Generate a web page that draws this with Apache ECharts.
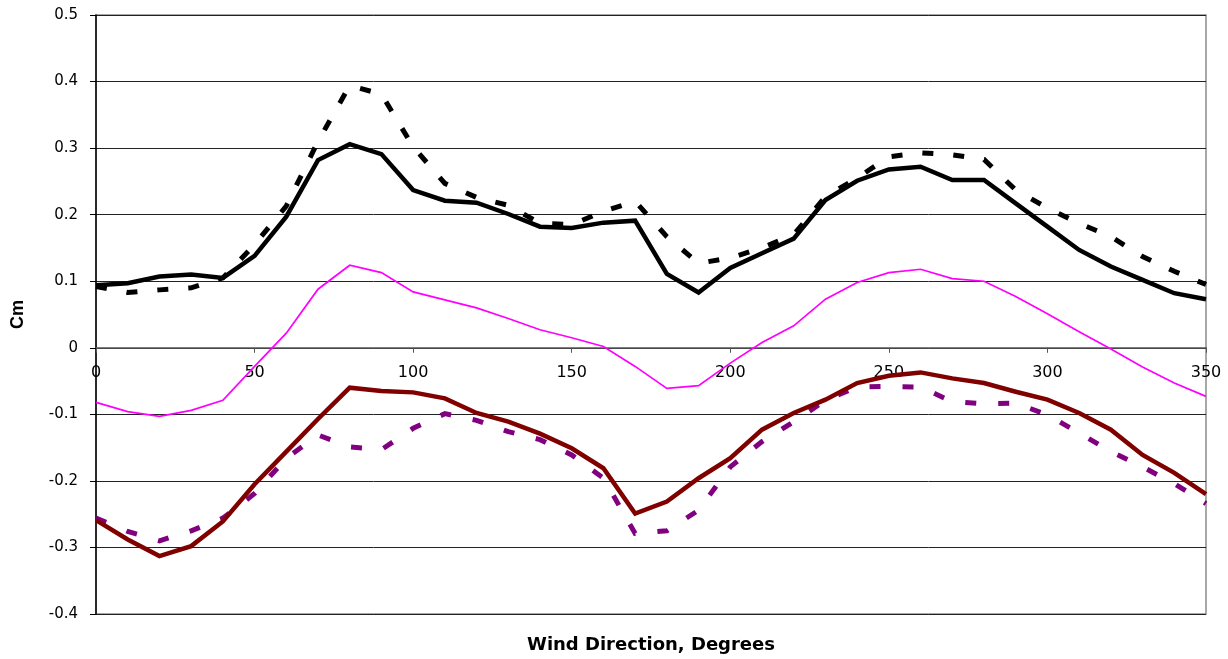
<!DOCTYPE html>
<html>
<head>
<meta charset="utf-8">
<script src="https://cdn.jsdelivr.net/npm/echarts@6/dist/echarts.min.js"></script>
<style>
  html, body { margin: 0; padding: 0; background: #fff; }
  #chart { width: 1228px; height: 659px; }
</style>
</head>
<body>
<div id="chart"></div>
<script>
// wind direction, degrees
const directions = [0, 10, 20, 30, 40, 50, 60, 70, 80, 90, 100, 110, 120, 130, 140, 150, 160, 170,
  180, 190, 200, 210, 220, 230, 240, 250, 260, 270, 280, 290, 300, 310, 320, 330, 340, 350]

// black solid
const blackSolid = [0.094, 0.097, 0.107, 0.110, 0.105, 0.138, 0.197, 0.282, 0.306, 0.291, 0.237, 0.221,
  0.218, 0.201, 0.182, 0.180, 0.188, 0.191, 0.111, 0.083, 0.120, 0.142, 0.164, 0.222, 0.251, 0.268,
  0.272, 0.252, 0.252, 0.217, 0.182, 0.147, 0.122, 0.102, 0.082, 0.073]

// black dashed
const blackDashed = [0.092, 0.083, 0.087, 0.090, 0.105, 0.155, 0.213, 0.310, 0.394, 0.381, 0.302, 0.247,
  0.226, 0.214, 0.187, 0.185, 0.205, 0.220, 0.167, 0.127, 0.135, 0.150, 0.170, 0.227, 0.255, 0.287,
  0.293, 0.290, 0.283, 0.237, 0.210, 0.187, 0.167, 0.137, 0.115, 0.095]

// thin magenta
const magenta = [-0.082, -0.096, -0.103, -0.094, -0.079, -0.028, 0.022, 0.088, 0.124, 0.113, 0.084, 0.072,
  0.060, 0.044, 0.027, 0.015, 0.002, -0.028, -0.061, -0.057, -0.023, 0.008, 0.033, 0.073, 0.098, 0.113,
  0.118, 0.104, 0.100, 0.077, 0.051, 0.024, -0.002, -0.029, -0.053, -0.073]

// dark red solid
const redSolid = [-0.259, -0.288, -0.313, -0.298, -0.261, -0.205, -0.156, -0.107, -0.060, -0.065, -0.067, -0.076,
  -0.098, -0.111, -0.129, -0.151, -0.181, -0.249, -0.231, -0.196, -0.166, -0.123, -0.098, -0.078, -0.053, -0.042,
  -0.037, -0.046, -0.053, -0.066, -0.078, -0.098, -0.123, -0.161, -0.188, -0.220]

// purple dashed
const purpleDashed = [-0.256, -0.276, -0.290, -0.275, -0.256, -0.219, -0.166, -0.131, -0.149, -0.153, -0.121, -0.099,
  -0.109, -0.126, -0.138, -0.161, -0.196, -0.279, -0.275, -0.244, -0.179, -0.141, -0.111, -0.079, -0.059, -0.058,
  -0.059, -0.081, -0.084, -0.083, -0.101, -0.128, -0.156, -0.179, -0.204, -0.234]

const font = '"DejaVu Sans", sans-serif'

// plot box (px) - x axis drawn at y = 0, so shift it up from the grid bottom
const gridTop = 15
const gridBottom = 45
const plotH = 659 - gridTop - gridBottom
const zeroShift = plotH * 0.4 / 0.9

function pairs(values) {
  return directions.map((d, i) => [d, values[i]])
}

function lineSeries(values, color, width, dash) {
  return {
    type: 'line',
    data: pairs(values),
    showSymbol: false,
    symbol: 'none',
    lineStyle: { color: color, width: width, type: dash || 'solid', cap: 'butt', join: 'miter' },
    z: 3
  }
}

const option = {
  animation: false,
  backgroundColor: '#fff',
  grid: {
    left: 96,
    top: gridTop,
    right: 22,
    bottom: gridBottom,
    outerBoundsMode: 'none',
    show: true,
    borderColor: '#8c8c8c',
    borderWidth: 1.5
  },
  xAxis: {
    type: 'value',
    min: 0,
    max: 350,
    interval: 50,
    offset: -zeroShift,
    name: 'Wind Direction, Degrees',
    nameLocation: 'middle',
    nameGap: 289,
    nameTextStyle: { fontFamily: font, fontWeight: 'bold', fontSize: 18, color: '#000' },
    axisLine: { onZero: false, lineStyle: { color: '#555', width: 1.5 } },
    axisTick: { show: true, length: 5, lineStyle: { color: '#555' } },
    axisLabel: { margin: 17, fontFamily: font, fontSize: 16, color: '#000' },
    splitLine: { show: false }
  },
  yAxis: {
    type: 'value',
    min: -0.4,
    max: 0.5,
    interval: 0.1,
    name: 'Cm',
    nameLocation: 'middle',
    nameGap: 69,
    nameRotate: 90,
    nameTextStyle: { fontFamily: '"Liberation Sans", Arial, sans-serif', fontWeight: 'bold', fontSize: 18, color: '#000' },
    axisLine: { show: true, lineStyle: { color: '#000', width: 1.5 } },
    axisTick: { show: true, length: 6, lineStyle: { color: '#000' } },
    axisLabel: {
      margin: 18,
      fontFamily: font,
      fontSize: 15,
      color: '#000',
      formatter: v => {
        const r = Math.round(v * 10) / 10
        return r === 0 ? '0' : String(r)
      }
    },
    splitLine: { show: true, lineStyle: { color: '#222', width: 1 } }
  },
  series: [
    lineSeries(magenta, '#ff00ff', 1.7),
    lineSeries(blackDashed, '#000', 5, [11, 20]),
    lineSeries(blackSolid, '#000', 4.5),
    lineSeries(purpleDashed, '#800080', 5, [11, 22]),
    lineSeries(redSolid, '#800000', 4.5)
  ]
}

const myChart = echarts.init(document.getElementById('chart'))
myChart.setOption(option)
window.addEventListener('resize', () => {
  myChart.resize()
})
</script>
</body>
</html>
